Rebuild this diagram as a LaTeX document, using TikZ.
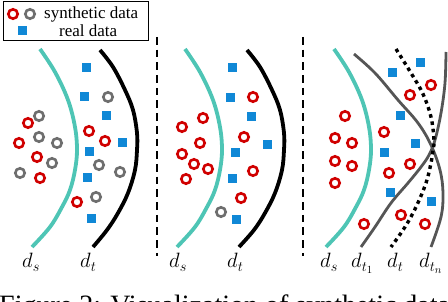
\documentclass[tikz,border=0pt]{standalone}
\usepackage{fontspec}
\setmainfont{Liberation Serif}
\definecolor{synred}{RGB}{208,0,0}
\definecolor{syngray}{RGB}{110,110,110}
\definecolor{realblue}{RGB}{16,136,214}
\definecolor{bteal}{RGB}{78,197,181}
\definecolor{cgray}{RGB}{85,85,85}
\tikzset{
  syn/.style={circle, draw=synred, line width=2.6pt, minimum size=9.4pt, inner sep=0pt},
  gsyn/.style={circle, draw=syngray, line width=2.6pt, minimum size=9.4pt, inner sep=0pt},
  real/.style={rectangle, fill=realblue, minimum size=9pt, inner sep=0pt},
  srcline/.style={draw=bteal, line width=3.8pt},
  tgtline/.style={draw=black, line width=3.8pt},
  appline/.style={draw=cgray, line width=2.8pt},
  dotline/.style={draw=black, line width=3.4pt, dash pattern=on 3.6pt off 3.8pt},
  sepline/.style={draw=black, line width=2.8pt, dash pattern=on 7.7pt off 5pt},
  lab/.style={anchor=base west, inner sep=0pt, font=\fontsize{21}{24}\selectfont},
  legtext/.style={anchor=west, inner sep=0pt, font=\fontsize{17}{20}\selectfont}
}
\begin{document}
\begin{tikzpicture}[x=1pt,y=-1pt]
\useasboundingbox (0,0) rectangle (448,302);
\clip (0,0) rectangle (448,302);
% legend
\draw[line width=1pt] (3,2) rectangle (148,41);
\node[syn] (l1) at (13,14) {};
\node[gsyn] (l2) at (30,14) {};
\node[real] (l3) at (22,31) {};
\node[legtext] (t1) at (44,14) {synthetic data};
\node[legtext] (t2) at (59,31) {real data};
% separators
\coordinate (s1a) at (157,37); \coordinate (s1b) at (157,256);
\coordinate (s2a) at (303,37); \coordinate (s2b) at (303,256);
\draw[sepline] (s1a) -- (s1b);
\draw[sepline] (s2a) -- (s2b);
% panel 1 curves
\draw[srcline] plot[smooth, tension=0.6] coordinates {(40,49) (55,72) (68,100) (75,127) (77,150) (75,170) (70,190) (62,207) (50,227) (32,247)};
\draw[tgtline] plot[smooth, tension=0.6] coordinates {(100,50) (113,67) (125,90) (133,110) (137,133) (137,150) (135,170) (128,193) (118,213) (107,230) (93,247)};
% panel 2 curves
\draw[srcline] plot[smooth, tension=0.6] coordinates {(185,49) (200,72) (213,100) (220,127) (222,150) (220,170) (215,190) (207,207) (195,227) (177,247)};
\draw[tgtline] plot[smooth, tension=0.6] coordinates {(247,50) (260,67) (272,90) (280,110) (284,133) (284,150) (282,170) (275,193) (265,213) (254,230) (239,247)};
% panel 3 curves
\draw[srcline] plot[smooth, tension=0.6] coordinates {(334,49) (349,72) (362,100) (369,127) (371,150) (369,170) (364,190) (356,207) (344,227) (326,247)};
\draw[appline] plot[smooth, tension=0.6] coordinates {(354,54) (375,73) (398,100) (418,123) (431,145) (440,170) (443,193) (441,217) (431,247)};
\draw[appline] plot[smooth, tension=0.6] coordinates {(446,52) (445,83) (441,113) (435,140) (429,155) (421,167) (408,183) (391,203) (375,227) (361,247)};
\draw[dotline] plot[smooth, tension=0.6] coordinates {(396,49) (411,73) (423,94) (431,117) (434,140) (433,150) (431,163) (426,183) (416,207) (405,227) (391,247)};
% panel 1 points
\foreach \p [count=\i] in {(28,123),(89,131),(19,143),(105,141),(37,157),(40,178),(77,202)}
  \node[syn] (ar\i) at \p {};
\foreach \p [count=\i] in {(39,116),(108,97),(39,137),(57,143),(52,163),(20,173),(99,165),(120,172),(96,197)}
  \node[gsyn] (ag\i) at \p {};
\foreach \p [count=\i] in {(86,68),(84,97),(106,116),(122,143),(89,152),(87,178),(91,219)}
  \node[real] (ab\i) at \p {};
% panel 2 points
\foreach \p [count=\i] in {(253,97),(203,118),(182,127),(200,143),(244,137),(182,154),(194,164),(208,169),(186,179),(253,171),(241,198)}
  \node[syn] (br\i) at \p {};
\node[gsyn] (bg1) at (221,212) {};
\foreach \p [count=\i] in {(232,68),(230,98),(251,117),(267,145),(235,153),(232,179),(236,220)}
  \node[real] (bb\i) at \p {};
% panel 3 points
\foreach \p [count=\i] in {(431,85),(410,95),(345,116),(335,138),(352,143),(384,132),(335,161),(352,166),(410,164),(389,173),(335,183),(401,215),(425,224),(364,224)}
  \node[syn] (cr\i) at \p {};
\foreach \p [count=\i] in {(392,73),(420,63),(400,116),(415,144),(384,153),(390,193),(431,202)}
  \node[real] (cb\i) at \p {};
% labels
\node[lab] (d1) at (22,268) {$d_s$};
\node[lab] (d2) at (80,268) {$d_t$};
\node[lab] (d3) at (169,268) {$d_s$};
\node[lab] (d4) at (227,268) {$d_t$};
\node[lab] (d5) at (320,268) {$d_s$};
\node[lab] (d6) at (351,268) {$d_{t_1}$};
\node[lab] (d7) at (387,268) {$d_t$};
\node[lab] (d8) at (419,268) {$d_{t_n}$};
% caption (cut off)
\node[anchor=base west, inner sep=0pt, font=\fontsize{28}{30}\selectfont] (cap) at (-1,315) {Figure 2: Visualization of synthetic data};
\end{tikzpicture}
\end{document}
